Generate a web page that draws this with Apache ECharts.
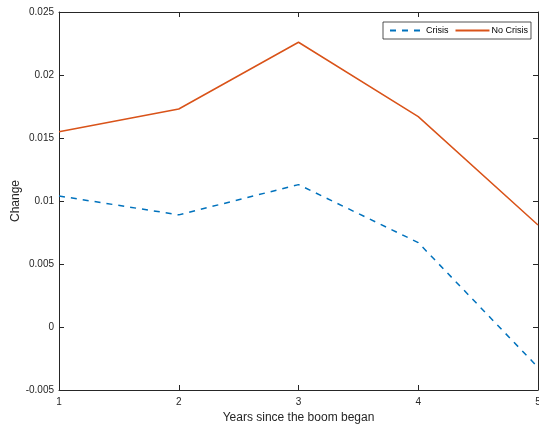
<!DOCTYPE html>
<html>
<head>
<meta charset="utf-8">
<script src="https://cdn.jsdelivr.net/npm/echarts@6/dist/echarts.min.js"></script>
<style>html,body{margin:0;padding:0;background:#fff;}#c{width:539px;height:431px;}</style>
</head>
<body>
<div id="c"></div>
<script>
var years = [1, 2, 3, 4, 5];
var crisis = [0.0104, 0.0089, 0.0113, 0.0067, -0.0032];
var noCrisis = [0.0155, 0.0173, 0.0226, 0.0167, 0.0081];
var yTicks = [-0.005, 0, 0.005, 0.01, 0.015, 0.02, 0.025];

var font = 'Liberation Sans, Arial, Helvetica, sans-serif';
var axisColor = '#262626';
function pairs(xs, ys){ return xs.map(function(x,i){return [x, ys[i]];}); }

var chart = echarts.init(document.getElementById('c'), null, {renderer:'canvas'});
chart.setOption({
  animation: false,
  backgroundColor: '#fff',
  grid: {left: 59, right: 1, top: 12, bottom: 41, containLabel: false, outerBoundsMode: 'none'},
  legend: {
    left: 383, top: 22,
    orient: 'horizontal',
    backgroundColor: '#fff',
    borderColor: '#262626', borderWidth: 0.8,
    padding: [4, 3, 4, 6],
    itemGap: 6,
    itemWidth: 34, itemHeight: 10,
    itemStyle: {opacity: 0},
    textStyle: {fontFamily: font, fontSize: 9, color: '#000', padding: [0,0,0,-3]},
    data: ['Crisis', 'No Crisis']
  },
  xAxis: [{
    type: 'value', min: 1, max: 5, interval: 1,
    name: 'Years since the boom began', nameLocation: 'middle', nameGap: 21,
    nameTextStyle: {fontFamily: font, fontSize: 12, color: '#262626'},
    axisLine: {show: true, onZero: false, lineStyle: {color: axisColor, width: 1}},
    axisTick: {show: true, inside: true, length: 5, lineStyle: {color: axisColor}},
    axisLabel: {fontFamily: font, fontSize: 10, color: '#262626', margin: 7, showMaxLabel: true, showMinLabel: true},
    splitLine: {show: false}
  }, {
    type: 'value', min: 1, max: 5, interval: 1, position: 'top',
    axisLine: {show: true, onZero: false, lineStyle: {color: axisColor, width: 1}},
    axisTick: {show: true, inside: true, length: 5, lineStyle: {color: axisColor}},
    axisLabel: {show: false}, splitLine: {show: false}
  }],
  yAxis: [{
    type: 'value', min: -0.005, max: 0.025, interval: 0.005,
    name: 'Change', nameLocation: 'middle', nameGap: 37, nameRotate: 90,
    nameMoveOverlap: false,
    nameTextStyle: {fontFamily: font, fontSize: 12, color: '#262626'},
    axisLine: {show: true, onZero: false, lineStyle: {color: axisColor, width: 1}},
    axisTick: {show: true, inside: true, length: 5, lineStyle: {color: axisColor}},
    axisLabel: {fontFamily: font, fontSize: 10, color: '#262626', margin: 5,
      formatter: function(v){ return String(parseFloat(v.toFixed(3))); }},
    splitLine: {show: false}
  }, {
    type: 'value', min: -0.005, max: 0.025, interval: 0.005, position: 'right',
    axisLine: {show: true, onZero: false, lineStyle: {color: axisColor, width: 1}},
    axisTick: {show: true, inside: true, length: 5, lineStyle: {color: axisColor}},
    axisLabel: {show: false}, splitLine: {show: false}
  }],
  series: [{
    name: 'Crisis', type: 'line', xAxisIndex: 0, yAxisIndex: 0,
    data: pairs(years, crisis), symbol: 'none', showSymbol: false,
    lineStyle: {color: '#0072BD', width: 1.5, type: [6, 6]},
    itemStyle: {color: '#0072BD'}
  }, {
    name: 'No Crisis', type: 'line', xAxisIndex: 0, yAxisIndex: 0,
    data: pairs(years, noCrisis), symbol: 'none', showSymbol: false,
    lineStyle: {color: '#D95319', width: 1.5},
    itemStyle: {color: '#D95319'}
  }]
});
</script>
</body>
</html>
